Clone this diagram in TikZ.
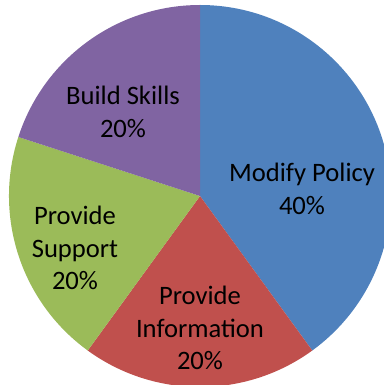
\documentclass[tikz,border=0pt]{standalone}
\usepackage{fontspec}
\setmainfont{Carlito}
\usepackage{tikz}
\usetikzlibrary{positioning}

\definecolor{policyblue}{HTML}{4F81BD}
\definecolor{infored}{HTML}{C0504D}
\definecolor{supportgreen}{HTML}{9BBB59}
\definecolor{skillpurple}{HTML}{8064A2}

\begin{document}
\begin{tikzpicture}[x=0.5pt, y=0.5pt]
  \tikzset{
    slicelabel/.style={align=center, inner sep=0pt, font=\fontsize{13.3}{16.3}\selectfont}
  }
  \useasboundingbox (-200,-189) rectangle (184,196);
  % Slices
  \foreach \a/\b/\c in {90/-54/policyblue, -54/-126/infored, -126/-198/supportgreen, 162/90/skillpurple} {
    \fill[\c] (0,0) -- (\a:191) arc[start angle=\a, end angle=\b, radius=191] -- cycle;
  }
  % Labels
  \node[slicelabel] (policy) at (102,7) {Modify Policy\\40\%};
  \node[slicelabel] (info) at (0,-132) {Provide\\Information\\20\%};
  \node[slicelabel] (support) at (-125,-52) {Provide\\Support\\20\%};
  \node[slicelabel] (skills) at (-77,84) {Build Skills\\20\%};
\end{tikzpicture}
\end{document}
